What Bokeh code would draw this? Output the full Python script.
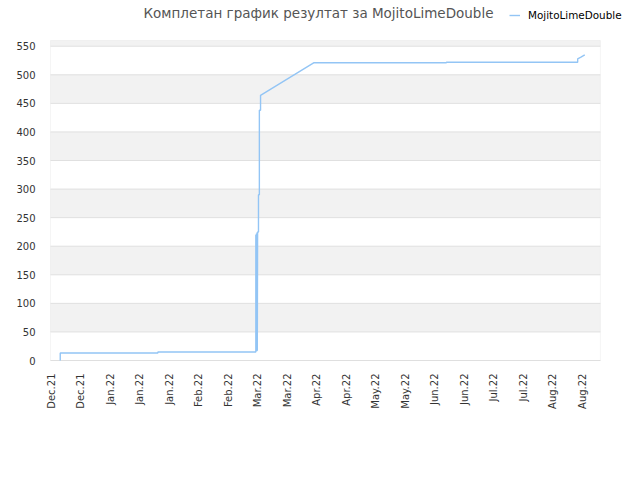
from bokeh.plotting import figure
from bokeh.models import (Range1d, FixedTicker, BoxAnnotation, Label, Legend, LegendItem)
from bokeh.embed import file_html
from bokeh.resources import INLINE

title_text = "Комплетан график резултат за MojitoLimeDouble"
series_name = "MojitoLimeDouble"

tick_labels = ["Dec.21", "Dec.21", "Jan.22", "Jan.22", "Jan.22", "Feb.22", "Feb.22",
               "Mar.22", "Mar.22", "Apr.22", "Apr.22", "May.22", "May.22", "Jun.22",
               "Jun.22", "Jul.22", "Jul.22", "Aug.22", "Aug.22"]
y_ticks = [0, 50, 100, 150, 200, 250, 300, 350, 400, 450, 500, 550]
band_bottoms = [50, 150, 250, 350, 450, 550]
y_max = 560

# x in label-slot units (0 = first label), y = score
xs = [0.30, 0.30, 3.61, 3.61, 6.93, 6.93, 6.94, 6.95, 6.96, 6.97, 6.98, 6.99, 7.00,
      7.02, 7.02, 7.05, 7.05, 7.09, 7.09, 8.89, 13.39, 13.39, 17.84, 17.84, 17.95, 18.08]
ys = [0, 13, 13, 15, 15, 220, 18, 222, 16, 224, 17, 225, 225,
      225, 290, 290, 438, 438, 464, 521, 521, 522, 522, 528, 531, 535]

x0, x1 = -0.03, 18.61
p = figure(width=636, height=470, output_backend="svg", toolbar_location=None,
           x_range=Range1d(x0 - 0.034, 19.834), y_range=Range1d(-1.75, 630),
           min_border_left=49, min_border_right=0, min_border_top=0, min_border_bottom=109)

p.outline_line_color = None
p.background_fill_color = "white"
p.border_fill_color = "white"

for lo in band_bottoms:
    p.add_layout(BoxAnnotation(bottom=lo, top=min(lo + 50, y_max), left=x0, right=x1,
                               fill_color="#F2F2F2", fill_alpha=1.0, line_alpha=0,
                               level="image"))

p.xgrid.grid_line_color = None
p.ygrid.grid_line_color = None
p.segment(x0=[x0] * len(y_ticks), x1=[x1] * len(y_ticks), y0=y_ticks, y1=y_ticks,
          line_color="#E0E0E0", line_width=1, level="underlay")

p.add_layout(BoxAnnotation(bottom=0, top=y_max, left=x0, right=x1, fill_alpha=0,
                           line_color="#DDDDDD", line_width=1, level="underlay"))

p.yaxis.ticker = FixedTicker(ticks=y_ticks)
p.xaxis.ticker = FixedTicker(ticks=list(range(len(tick_labels))))
p.xaxis.major_label_overrides = {i: t for i, t in enumerate(tick_labels)}
p.xaxis.major_label_orientation = 1.5708

for ax in [p.xaxis[0], p.yaxis[0]]:
    ax.axis_line_color = None
    ax.major_tick_line_color = None
    ax.minor_tick_line_color = None
    ax.major_label_text_font = "DejaVu Sans"
    ax.major_label_text_font_size = "10px"
    ax.major_label_text_color = "#333333"
p.yaxis.major_label_standoff = 8
p.xaxis.major_label_standoff = 6

r = p.line(xs, ys, line_color="#93C5F5", line_width=1.4)

p.add_layout(Label(x=269, y=349, x_units="screen", y_units="screen", text=title_text,
                   text_align="center", text_baseline="middle", text_font="DejaVu Sans",
                   text_font_size="13.5px", text_color="#555555"))

legend = Legend(items=[LegendItem(label=series_name, renderers=[r])], location=(460, 340),
                label_text_font="DejaVu Sans", label_text_font_size="10.4px",
                label_text_color="#000000", glyph_width=11, glyph_height=10,
                padding=0, margin=0, label_standoff=8, border_line_alpha=0,
                background_fill_alpha=0)
p.add_layout(legend, "center")

open("out.html", "w").write(file_html(p, INLINE))
